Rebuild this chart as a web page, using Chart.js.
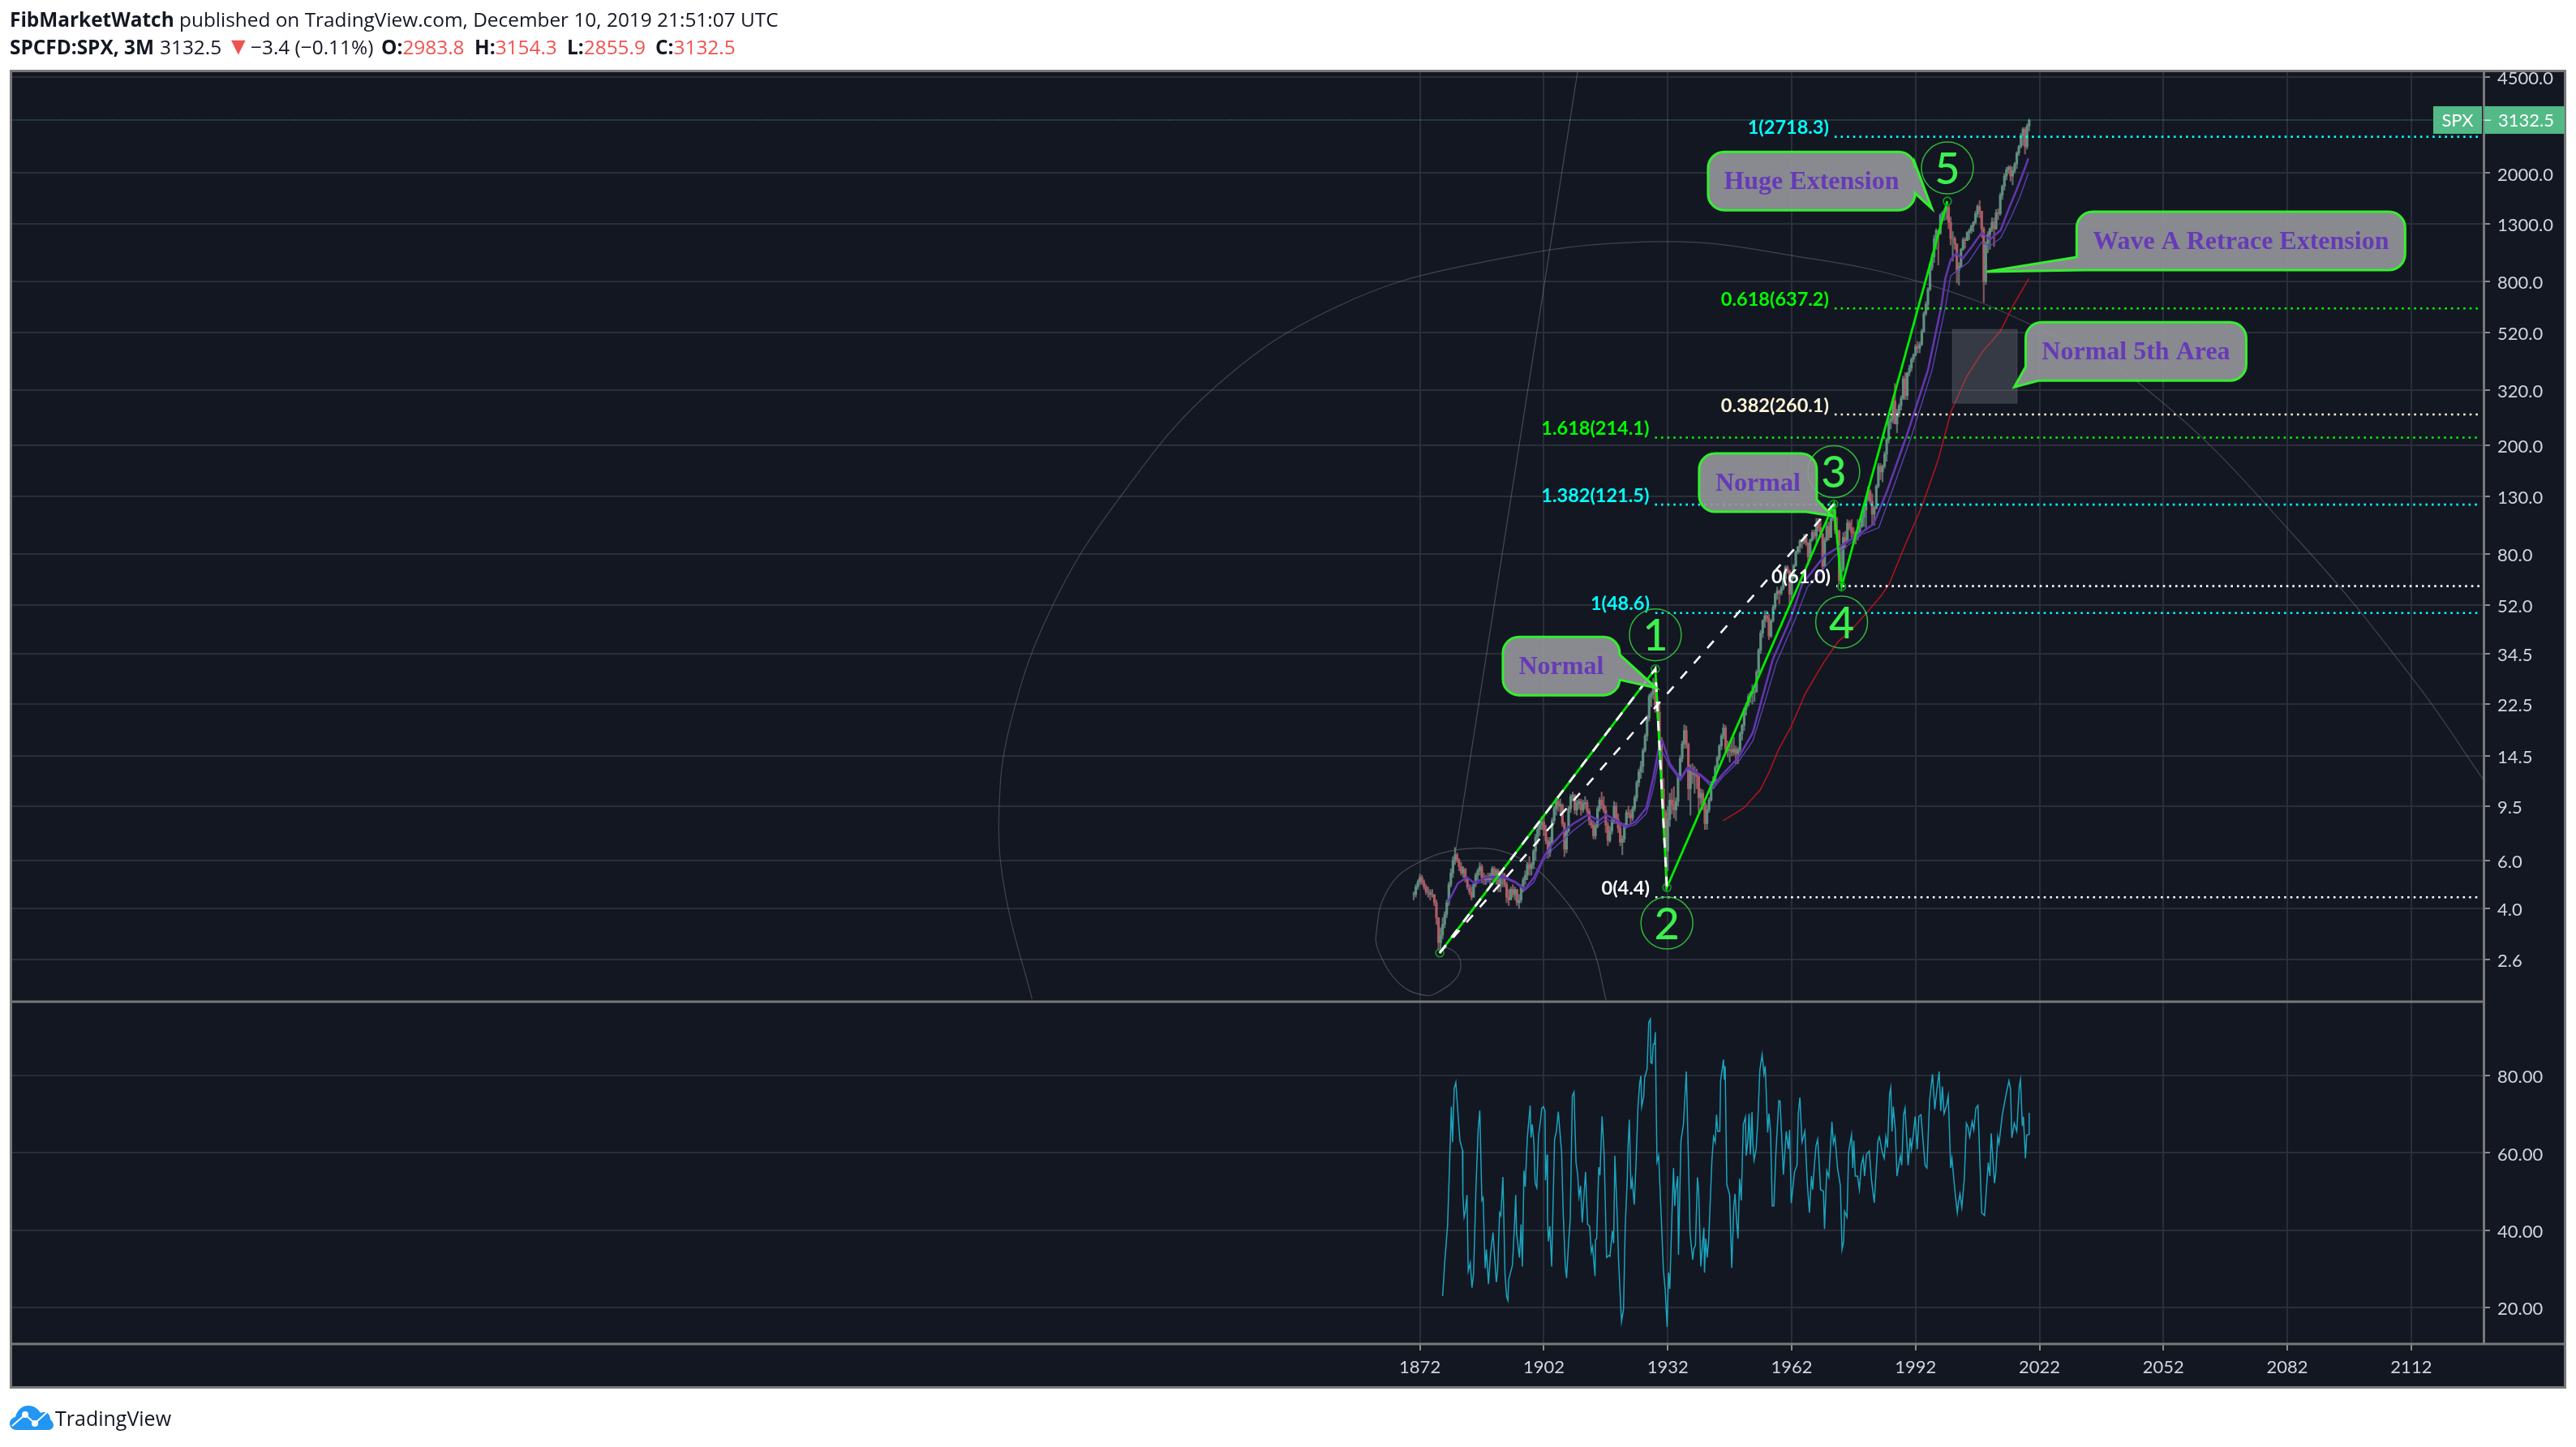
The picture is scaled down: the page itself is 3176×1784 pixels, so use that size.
<!DOCTYPE html>
<html><head><meta charset="utf-8"><title>SPX 3M</title>
<style>
html,body{margin:0;padding:0;background:#fff;width:3176px;height:1784px;overflow:hidden}
canvas{position:absolute;left:0;top:0}
.t{position:absolute;white-space:pre;font-family:"Open Sans",sans-serif;color:#131722;font-size:24.4px;line-height:30px}
.t b{font-weight:700}.r{color:#ef5350}
</style></head><body>
<canvas id="c" width="3176" height="1784"></canvas>
<div class="t" style="left:12px;top:9px"><b>FibMarketWatch</b> published on TradingView.com, December 10, 2019 21:51:07 UTC</div>
<div class="t" style="left:12px;top:43px"><b>SPCFD:SPX, 3M</b></div>
<div class="t" style="left:197px;top:43px">3132.5</div>
<div class="t r" style="left:279px;top:41px;font-size:30px">▼</div>
<div class="t" style="left:309px;top:43px">−3.4 (−0.11%)</div>
<div class="t" style="left:470px;top:43px"><b>O:</b><span class="r">2983.8</span></div>
<div class="t" style="left:585px;top:43px"><b>H:</b><span class="r">3154.3</span></div>
<div class="t" style="left:699px;top:43px"><b>L:</b><span class="r">2855.9</span></div>
<div class="t" style="left:808px;top:43px"><b>C:</b><span class="r">3132.5</span></div>
<svg style="position:absolute;left:12px;top:1732px" width="54" height="32" viewBox="0 0 54 32"><path d="M8 31C3 31 0 27 0 23c0-4 3-7 7-8 2-8 8-14 16-14 7 0 12 4 15 9 2-1 3-1 5-1 4 0 7 4 7 9 2 2 4 4 4 7 0 3-3 6-6 6z" fill="#2196f3"/><path d="M3 26L19 12 31 23 46 9" stroke="#fff" stroke-width="2" fill="none"/><circle cx="19" cy="12" r="4" fill="#fff"/><circle cx="31" cy="23" r="4" fill="#fff"/></svg>
<div class="t" style="left:68px;top:1733px;font-size:25px">TradingView</div>
<script src="https://cdn.jsdelivr.net/npm/chart.js@4"></script>
<script>
const candleStartYear = 1870.5;
const candleStepYears = 0.5;
const candleLow = [
4.3,4.4,4.7,4.9,4.9,4.7,4.5,4.4,4.3,4.4,
4.1,3.5,2.8,2.75,3.1,3.4,3.7,4.1,4.8,5.2,
5.8,5.9,5.5,5.3,5.2,5.0,4.7,4.5,4.3,4.4,
4.8,5.1,5.3,5.0,4.9,4.9,5.0,4.9,5.1,5.0,
4.9,4.6,4.6,4.8,4.8,4.2,4.1,4.3,4.4,4.3,
4.1,4.0,4.2,4.6,4.9,5.1,5.3,5.3,5.6,6.0,
6.9,7.4,7.8,7.4,6.9,6.1,6.2,6.9,8.2,8.8,
9.1,8.9,8.0,6.2,6.4,7.6,9.0,9.9,8.9,8.8,
9.3,8.8,9.0,9.3,8.9,8.1,7.9,7.2,7.2,7.9,
9.1,9.3,9.0,7.6,6.8,7.0,7.5,8.2,8.2,7.6,
6.8,6.3,7.0,7.9,8.6,8.2,8.4,9.1,9.9,11.2,
12.0,12.6,15.0,16.5,19.5,22.0,23.5,21.0,20.0,15.5,
10.0,8.5,4.7,5.5,8.0,8.9,8.6,8.4,9.5,12.0,
13.8,15.5,15.5,10.0,8.8,11.5,10.6,11.0,9.0,9.6,
9.2,7.8,7.8,9.0,9.9,11.0,11.5,12.8,14.0,15.3,
16.8,15.0,14.4,13.8,14.5,14.6,13.6,13.6,15.0,16.6,
18.0,20.5,22.0,22.8,22.5,23.0,24.8,29.0,34.5,39.5,
43,45,38.8,39.5,45,50,54.5,52.5,56.5,59,
63.5,68,52.3,55,65,72,80,81,84,87,
86,73,77,89,91,87,97,92,69,72,
89,90,92,106,95,92,62,61,69,84,
88,98,92,90,87,90,93,100,101,98,
125,122,102,102,117,140,150,147,165,175,
204,230,242,282,223,255,270,295,295,295,
360,375,405,425,438,438,465,520,600,630,
740,880,940,1050,920,1190,1330,1340,1350,1250,
1090,950,1050,790,776,900,1040,1060,1130,1140,
1200,1220,1300,1380,1370,1160,670,780,1020,1050,
1220,1075,1240,1350,1400,1600,1730,1890,1990,1870,
1810,2000,2080,2320,2470,2530,2350,2450,2855];
const candleHigh = [
4.6,4.9,5.1,5.35,5.3,5.1,4.9,4.8,4.7,4.7,
4.5,4.3,3.7,3.4,3.7,3.9,4.3,5.0,5.6,6.2,
6.7,6.4,6.1,5.9,5.7,5.6,5.2,4.9,4.8,5.0,
5.4,5.6,5.9,5.8,5.4,5.3,5.4,5.4,5.7,5.7,
5.6,5.6,5.3,5.5,5.4,5.0,4.7,4.8,4.9,4.8,
4.7,4.5,4.9,5.2,5.5,5.9,6.2,5.9,6.6,7.5,
8.1,8.4,8.7,8.7,8.1,7.3,7.3,8.6,9.5,10.2,
10.2,10.1,9.7,8.3,7.9,9.5,10.5,10.7,10.5,10.0,
10.1,10.1,10.0,10.3,10.0,9.3,8.5,8.4,8.2,9.5,
10.2,10.7,10.3,9.5,8.3,8.0,8.6,9.9,9.8,8.9,
8.2,7.4,8.2,9.2,9.5,9.2,9.5,10.4,11.8,13.0,
13.9,15.5,17.5,20.5,24.5,25.0,28.0,31.0,24.0,22.5,
17.0,12.0,9.2,9.5,10.6,11.0,11.2,10.2,12.5,14.6,
16.5,18.9,18.7,16.2,13.5,13.6,13.3,13.0,12.5,11.0,
10.9,9.8,9.6,10.2,11.7,12.2,13.4,14.5,16.0,17.5,
19.0,18.8,16.5,16.0,16.6,17.0,15.8,15.6,17.8,19.0,
21.8,22.8,24.5,25.0,26.5,25.5,30.0,36.0,42.0,46.0,
49.5,49.5,48,46,52,57.5,60.5,59,61,65.5,
72.5,72.5,70,66,73.5,82,85.5,90.5,90.5,94.5,
94.5,88,91,98,98,108,108,107,95,92,
105,105,110,122,120,109,98,85,96,97,
107,106,107,100,97,107,103,112,120,130,
141,138,133,120,144,172,172,170,190,213,
254,256,300,338,272,285,305,360,370,372,
395,420,435,470,482,480,535,620,675,760,
930,1010,1185,1250,1240,1420,1450,1480,1577,1530,
1380,1220,1170,1100,940,1060,1160,1160,1220,1250,
1290,1330,1450,1530,1585,1450,1270,1120,1220,1260,
1370,1370,1470,1480,1690,1810,1990,2100,2130,2130,
2110,2190,2400,2530,2800,2940,2940,3030,3154];
const candleClose = [
4.5,4.8,5.0,5.2,5.0,4.8,4.6,4.6,4.5,4.5,
4.2,3.7,3.0,3.2,3.5,3.8,4.2,4.9,5.4,6.0,
6.3,6.0,5.7,5.4,5.6,5.1,4.8,4.6,4.4,4.9,
5.3,5.5,5.7,5.2,5.1,5.2,5.1,5.3,5.6,5.2,
5.5,4.9,5.2,5.3,4.9,4.4,4.3,4.7,4.5,4.7,
4.2,4.3,4.8,5.1,5.3,5.8,5.6,5.8,6.5,7.3,
7.8,8.1,8.3,7.8,7.1,6.4,7.0,8.4,9.3,9.9,
9.5,9.6,8.2,6.6,7.7,9.3,10.3,10.4,9.2,9.7,
9.9,9.2,9.7,9.8,9.1,8.4,8.1,7.4,8.0,9.3,
10.0,9.6,9.2,8.1,7.1,7.7,8.4,9.5,8.5,7.9,
7.0,7.2,8.1,9.0,8.9,8.6,9.3,10.2,11.6,12.7,
13.3,15.2,17.2,20.0,24.0,24.5,27.0,22.0,21.0,16.5,
11.0,9.0,6.5,8.5,10.0,9.6,9.2,9.9,12.2,14.2,
16.1,18.0,16.0,11.0,13.0,12.4,12.5,12.2,10.2,10.6,
9.8,8.2,9.2,10.0,11.5,11.7,13.2,14.3,15.8,17.2,
18.4,15.4,15.2,15.3,15.0,15.4,14.8,15.3,17.5,18.8,
21.5,22.3,24.0,24.6,24.8,25.0,29.5,35.5,41.0,45.5,
47.5,46.5,40,45.5,51,57,58.5,57.5,60,65,
71.5,69,57,65.5,72.5,81.5,85,89.5,89,92,
88,78,90,96,93,104,100,95,72,90,
101,92,108,116,98,97,64,70,92,88,
104,100,96,95,92,96,101,109,116,127,
136,125,112,118,142,168,160,168,186,210,
245,250,292,240,262,280,298,352,305,370,
385,415,430,462,455,470,525,610,660,750,
900,985,1150,1230,1200,1400,1430,1460,1500,1320,
1150,1150,1100,880,910,1050,1140,1130,1210,1230,
1280,1320,1420,1510,1450,1250,800,1110,1190,1250,
1320,1250,1430,1420,1660,1790,1950,2060,2100,1950,
2040,2160,2370,2500,2750,2900,2500,2980,3132.5];

const maFastYears = [1878.8,1881.2,1883.4,1885.1,1888.2,1892.1,1895.2,1897.4,1899.6,1902.2,1904,1907,1909.2,1912.7,1915.4,1917.1,1919.7,1921.9,1924.1,1926.8,1928.5,1929.8,1930.7,1932.5,1935.1,1936.8,1939.9,1943,1945.2,1949.1,1952.6,1954.8,1957.4,1961.8,1964.5,1969.9,1977.5,1981.8,1985,1990,1995,1998.2,1999.2,2000.5,2001.8,2003.4,2005.7,2008,2010,2012.6,2014.6,2016.5,2018.5,2019.3];
const maFastValues = [4.21,4.95,5.21,4.97,5.21,5.25,5,4.72,5.19,6.26,6.88,7.74,8.21,8.82,8.41,8.82,8.41,8.02,8.31,9.35,12.1,15.4,16.5,13.6,12,13.2,12.4,11.3,12.4,14.3,17.7,23.5,32.7,46.6,61.8,78.7,92.7,103,135,221,379,645,820,962,1012,972,1079,1209,1142,1236,1485,1743,2092,2266];
const maSlowYears = [1883.4,1885.1,1888.2,1892.1,1895.2,1897.4,1899.6,1901.8,1904,1907,1909.2,1912.7,1915.4,1917.1,1919.7,1921.9,1924.1,1926.8,1928.5,1929.8,1930.7,1932.5,1935.1,1936.8,1939.9,1943,1945.2,1949.1,1952.6,1955.3,1958.3,1962.7,1965.8,1972.4,1978.7,1983.1,1986.2,1991.2,1996,1999.2,2000.5,2002.1,2004.75,2008,2010,2012.6,2015.2,2017.2,2019.3];
const maSlowValues = [4.72,4.95,5,5.19,4.95,4.66,5,5.97,6.57,7.22,7.74,8.51,8.12,8.51,8.21,7.93,8.12,8.92,11,14,15,13.3,11.8,13,12.3,11,12.1,13.8,16.5,22.4,31.9,45.5,60.4,78.7,94,100,135,221,379,645,840,879,940,1117,1079,1156,1387,1628,2000];
const maLongYears = [1945.4,1950.4,1954.4,1956.6,1958.8,1961.8,1965.3,1969.7,1973.2,1976.3,1980.2,1983.7,1985.6,1988.7,1993.7,1997.5,2000.6,2004.4,2008.1,2012.5,2015.6,2019.4];
const maLongValues = [8.4,9.35,10.9,12.7,15.3,18.5,24.6,31.9,38.1,41.9,48.8,56.3,62,81,121.6,178,267,359,440,525,652,820];

const waveYears  = [1876.8,1929.0,1931.8,1972.2,1974.1,1999.7];
const waveValues = [2.75,30.3,4.78,122,60.8,1577];
const waveLabels = ["","1","2","3","4","5"];
const waveLabelOffsets = [0,-42,44,-40,44,-41];
const dashChannelYears = [1876.8,1972.2];
const dashChannelValues = [2.75,122];

const fibLabels = ["1(2718.3)","0.618(637.2)","0.382(260.1)","1.618(214.1)","1.382(121.5)","0(61.0)","1(48.6)","0(4.4)"];
const fibValues = [2718.3,637.2,260.1,214.1,121.5,61.0,48.6,4.4];
const fibStartYears = [1972.4,1972.4,1972.4,1928.9,1928.9,1972.8,1929,1929];
const fibColors = ["#00ffff","#00ff00","#fff4d6","#00ff00","#00ffff","#ffffff","#00ffff","#ffffff"];
const fibEndYear = 2128.5;

const spiralYears = [1876.8,1878.6,1881.6,1881.2,1876.8,1873.3,1867.2,1861.9,1861.5,1863.6,1869.8,1883.8,1896.1,1906.6,1913.6,1917.1];
const spiralValues = [2.74,2.87,2.62,2.27,1.99,1.92,2.11,2.81,3.31,4.5,5.7,6.64,6.12,4.4,2.94,1.84];
const bigArcYears = [1778.1,1771.7,1770.1,1772.9,1782.8,1798.7,1822.6,1852.4,1886.2,1930,1965.8,1993.6,2020.3,2048.5,2085.1,2112.9,2129.6];
const bigArcValues = [1.864,4.47,8.95,19.2,50.7,125,330,652,936,1121,976,792,552,317,88.4,27.2,11.8];
const rayYears = [1876.8,1910.2];
const rayValues = [2.74,4742];

const zoneYears = [2000.9,2016.6];
const zoneValues = [286,534];

const calloutLabels = ["Huge Extension","Normal","Normal","Wave A Retrace Extension","Normal 5th Area"];
const calloutTipYears = [1995.96,1971.8,1929.2,2009.2,2015.9];
const calloutTipValues = [1482,110.4,25.8,869,328];

const rsiYears = [1877.5,1878,1878.7,1879.1,1879.6,1879.9,1880.3,1880.7,1881.5,1881.7,1882.3,1882.4,1882.7,1883,1883.4,1883.7,1884.2,1884.6,1885,1885.6,1886.1,1886.5,1887,1887.3,1887.8,1888.1,1888.6,1889.1,1889.7,1890.5,1890.8,1891.3,1891.6,1892.1,1892.6,1893,1893.3,1893.5,1894.4,1894.9,1895.2,1895.4,1896.1,1896.5,1896.8,1897.2,1897.5,1898,1898.7,1898.9,1899.2,1899.6,1899.9,1900.3,1900.7,1901.2,1901.5,1901.9,1902.3,1902.4,1902.8,1902.9,1903.1,1903.45,1903.9,1904.6,1905,1905.5,1906.3,1906.7,1907.2,1907.5,1908,1908.4,1908.9,1909.3,1909.8,1910.2,1910.5,1910.9,1911.3,1912.1,1912.6,1913.1,1913.5,1913.8,1914.4,1914.5,1914.8,1915.3,1915.6,1916.1,1916.6,1917.2,1917.7,1918,1918.6,1918.9,1919.2,1919.8,1920.1,1920.8,1921.3,1921.7,1922.2,1922.4,1922.7,1923.1,1923.4,1923.9,1924.3,1924.8,1925.2,1925.5,1925.7,1926.2,1926.4,1927,1927.4,1927.8,1927.9,1928.2,1928.5,1928.8,1929,1929.2,1929.4,1929.8,1930.4,1930.95,1931.4,1931.85,1932.2,1932.5,1933,1933.4,1933.7,1933.9,1934.4,1934.6,1935.2,1935.8,1936.5,1937,1937.4,1938.05,1938.3,1938.7,1939.2,1939.5,1940,1940.75,1940.9,1941.2,1941.55,1941.9,1942.7,1943.1,1943.5,1943.8,1944.1,1944.6,1944.8,1945.5,1945.7,1945.9,1946.3,1947,1947.2,1947.5,1948,1948.3,1948.65,1949,1949.4,1949.8,1950.3,1950.8,1951,1951.35,1951.7,1952,1952.4,1952.6,1952.9,1953.4,1953.8,1954.3,1954.85,1955.3,1955.6,1956.2,1956.5,1956.9,1957.3,1957.7,1958.2,1958.9,1959.2,1960,1960.7,1961.2,1961.5,1961.9,1962.7,1963.3,1963.6,1964,1964.5,1965.2,1965.8,1966.3,1966.8,1967.1,1967.5,1967.9,1968.3,1968.6,1969,1969.7,1969.95,1970.5,1971,1971.75,1972.1,1972.5,1973.1,1973.8,1974.2,1974.6,1974.8,1975.4,1975.8,1976.5,1976.8,1977.05,1977.4,1977.95,1978.4,1978.85,1979.3,1979.65,1980.1,1980.8,1981.3,1982,1982.9,1983.25,1983.9,1984.4,1984.8,1985.2,1985.7,1986,1986.3,1986.6,1987.1,1987.5,1988.3,1988.65,1989.1,1989.45,1990.2,1990.7,1991,1991.5,1991.9,1992.4,1992.8,1993.3,1994.3,1994.75,1995.4,1996.1,1996.65,1997.1,1997.7,1998.1,1998.5,1998.9,1999.5,1999.9,2000.15,2000.5,2000.8,2001.5,2002.1,2002.4,2002.75,2003.2,2003.8,2004.3,2004.7,2005.1,2005.7,2006.1,2006.6,2007.1,2008,2008.7,2009.6,2010,2010.3,2011.1,2011.4,2011.9,2012.2,2013,2013.9,2014.6,2015,2015.3,2015.9,2016.5,2017.1,2017.4,2017.85,2018.1,2018.6,2018.9,2019.4,2019.5];
const rsiValues = [22.9,31.5,41.3,54,72,62.8,76.7,78.3,66,63.2,60.7,49.1,43.4,44.9,49.1,29.4,31.5,25.1,28.7,51.9,66,71,47.7,48.4,30.1,35,26,33.9,39.4,26.5,29.4,44.5,43.8,53.8,28.7,22.7,21.8,27.2,30.9,41.3,49.1,39.2,32.9,41.5,30.6,55.4,51.3,63.9,72.3,64,67.4,62.8,52.2,51,64.2,68.4,71.6,72,70.9,52.9,59.6,43.4,37.1,41,30.6,63.5,65.3,70.7,60.3,44.1,30.8,27.6,36.8,42.7,74.8,75.8,57.5,54.4,48.7,51.5,42,55.1,41.5,41,34.3,35.7,28.1,37.5,37.8,56.3,54.2,69.5,59.6,32.9,33.4,33.2,39.8,36.6,59.3,42.7,32.2,16.3,19.5,40.6,53.3,61.8,68.6,50.6,53,46.6,56.8,72,78,80,72,74.8,79.4,81.8,93.8,94.7,83.4,83.2,88.2,88.2,91.3,73,57.7,59.3,44.1,29.7,24.4,14.9,29,24.8,43.4,56.1,46.3,49.8,54,33.6,63.2,67.4,81.1,58.9,39.2,32.3,35.1,36,53.7,49.8,30.6,40.6,29,37.8,32.9,37.1,58.2,64.2,62.8,69.9,65.6,65.6,78.7,84.2,79,82.5,51.9,49.1,40.6,30.2,46.3,49.4,42.7,37.8,53.3,47.7,67.4,69.3,59.3,62.8,70.2,59.6,70.6,62.5,58.1,61,68.1,81.5,85.5,80.4,82.5,65.3,70.2,65.3,46.3,46.3,60.3,73.6,73.4,54.4,65.6,61,66,47,55.1,56.8,70.2,74.4,62.8,65.6,51.9,44.5,54,50.5,56.8,61.8,63.5,58.6,50.5,50.1,40.3,55.4,53.7,68.1,62.5,64.2,56.1,51.5,35,37.1,44.9,43.4,60.3,64.7,56.1,63.2,54,54,50.5,56.8,58.9,54,59.6,60.5,53.3,47.1,63.2,64.2,60.3,58.6,64.2,61.4,75.1,76.9,65.6,72,66,54,59.3,56.8,69.9,71.6,56.8,63.9,61,65.3,69.5,61,69.5,69.9,56.8,56.1,73.7,80.4,71.3,75.8,81.1,70.9,77.2,70.2,72.3,74.8,67.4,56.1,58.6,50.5,44.5,47.3,49.4,45.9,53.3,67.7,66.7,64.2,68.1,66,71.6,72.3,44.5,43.8,57.5,54,65.1,52.2,54.7,64.2,62.5,69.9,75.1,78.7,76.5,63.9,67.7,65.6,77.2,79,67,69.4,58.6,64.6,64.8,70.4];

const priceTicks = [4500,2000,1300,800,520,320,200,130,80,52,34.5,22.5,14.5,9.5,6,4,2.6];
const rsiTicks = [80,60,40,20];
const yearTicks = [1872,1902,1932,1962,1992,2022,2052,2082,2112];
const lastPrice = 3132.5;
const lastPriceName = "SPX";

const BG = "#131722", GRID = "#2a2e39", FRAME = "#787878", AXIS = "#d1d4dc";
const AXFONT = {family:"Lato", size:22};

const pts = (xs, ys) => xs.map((x,i)=>({x, y:ys[i]}));
const candleYears = candleClose.map((_,i)=>candleStartYear + i*candleStepYears);
const isUp = candleClose.map((c,i)=> i===0 || c >= candleClose[i-1]);
const bodyColors = isUp.map(u=> u ? "#5f8f80" : "#ad5c65");
const wickColors = isUp.map(u=> u ? "rgba(110,135,128,.8)" : "rgba(165,100,108,.8)");
const line = (label, xs, ys, color, width, extra={}) => Object.assign({
  type:"line", label, data:pts(xs,ys), borderColor:color, borderWidth:width,
  pointRadius:0, fill:false, tension:0, xAxisID:"x", yAxisID:"y"
}, extra);

// layout of annotations, in pixels relative to their anchors
const calloutShapes = [
 {box:[-276,-70,-21,2],  kind:"right", w:[-56,-19], font:32},
 {box:[-164,-77,-19,-5], kind:"br",    w:[-20,-32], font:32},
 {box:[-189,-63,-45,9],  kind:"right", w:[-41,-10], font:32},
 {box:[111,-74,516,-2],  kind:"bl",    w:[-18,121], font:32},
 {box:[14,-80,286,-8],   kind:"bl",    w:[-25,30],  font:32}
];

function calloutPath(g,l,t,r,b,R,tx,ty,s){
  g.beginPath(); g.moveTo(l+R,t); g.lineTo(r-R,t); g.arcTo(r,t,r,t+R,R);
  if(s.kind==="right"){ g.lineTo(r,ty+s.w[0]); g.lineTo(tx,ty); g.lineTo(r,ty+s.w[1]); g.lineTo(r,b-R); g.arcTo(r,b,r-R,b,R); }
  else if(s.kind==="br"){ g.lineTo(r,ty+s.w[0]); g.lineTo(tx,ty); g.lineTo(tx+s.w[1],b); }
  else { g.lineTo(r,b-R); g.arcTo(r,b,r-R,b,R); }
  if(s.kind==="bl"){ g.lineTo(tx+s.w[1],b); g.lineTo(tx,ty); g.lineTo(l,ty+s.w[0]); }
  else { g.lineTo(l+R,b); g.arcTo(l,b,l,b-R,R); }
  g.lineTo(l,t+R); g.arcTo(l,t,l+R,t,R); g.closePath();
}

const overlay = {
 id:"overlay",
 beforeDraw(c){
  const g=c.ctx; g.save();
  g.fillStyle="#fff"; g.fillRect(0,0,c.width,c.height);
  g.fillStyle=BG; g.fillRect(13,88,3149,1622);
  g.restore();
 },
 afterDatasetsDraw(c){
  const g=c.ctx, X=c.scales.x, Y=c.scales.y; g.save();
  // shaded zone
  const zx0=X.getPixelForValue(zoneYears[0]), zx1=X.getPixelForValue(zoneYears[1]);
  const zy0=Y.getPixelForValue(zoneValues[1]), zy1=Y.getPixelForValue(zoneValues[0]);
  g.fillStyle="rgba(120,123,134,.35)"; g.strokeStyle="rgba(120,123,134,.3)"; g.lineWidth=1;
  g.fillRect(zx0,zy0,zx1-zx0,zy1-zy0); g.strokeRect(zx0,zy0,zx1-zx0,zy1-zy0);
  // fib labels
  g.font="700 23.5px Lato"; g.textAlign="right"; g.textBaseline="middle";
  fibLabels.forEach((t,i)=>{ g.fillStyle=fibColors[i];
    g.fillText(t, X.getPixelForValue(fibStartYears[i])-7, Y.getPixelForValue(fibValues[i])-11); });
  // wave numbers
  waveLabels.forEach((t,i)=>{ if(!t) return;
    const x=X.getPixelForValue(waveYears[i]), y=Y.getPixelForValue(waveValues[i])+waveLabelOffsets[i];
    g.beginPath(); g.arc(x,y,32,0,Math.PI*2); g.strokeStyle="#2fb83a"; g.lineWidth=1.5; g.stroke();
    g.fillStyle="#3cf04e"; g.font="500 54px Lato"; g.textAlign="center"; g.textBaseline="middle";
    g.fillText(t,x,y+2);
  });
  // callouts
  calloutLabels.forEach((t,i)=>{
    const s=calloutShapes[i], tx=X.getPixelForValue(calloutTipYears[i]), ty=Y.getPixelForValue(calloutTipValues[i]);
    const l=tx+s.box[0], u=ty+s.box[1], r=tx+s.box[2], b=ty+s.box[3];
    calloutPath(g,l,u,r,b,20,tx,ty,s);
    g.fillStyle="rgba(150,151,156,.9)"; g.fill();
    g.strokeStyle="#33f02f"; g.lineWidth=3; g.stroke();
    g.fillStyle="#673ab7"; g.font="700 "+s.font+"px 'Liberation Serif'"; g.textAlign="center"; g.textBaseline="middle";
    g.fillText(t,(l+r)/2,(u+b)/2+2);
  });
  g.restore();
 },
 afterDraw(c){
  const g=c.ctx, a=c.chartArea, Y=c.scales.y, R=c.scales.rsi; g.save();
  g.fillStyle=FRAME;
  g.fillRect(12,86,3152,3); g.fillRect(12,1709,3152,3); g.fillRect(12,86,3,1626); g.fillRect(3161,86,3,1626);
  g.fillRect(a.left,R.top-1.5,a.right-a.left,3);
  g.fillRect(a.left,a.bottom-1.5,3162-a.left,3);
  g.fillRect(a.right-1,a.top,3,a.bottom-a.top+1);
  // last price tag
  const y=Y.getPixelForValue(lastPrice);
  g.fillStyle="#53b987"; g.fillRect(a.right-62,y-17,60,34); g.fillRect(a.right+1,y-17,99,34);
  g.fillStyle="rgba(255,255,255,.8)"; g.fillRect(a.right+1,y-.5,8,1.5);
  g.fillStyle="#fff"; g.font="22px Lato"; g.textBaseline="middle"; g.textAlign="center";
  g.fillText(lastPriceName,a.right-32,y+1);
  g.textAlign="left"; g.fillText(lastPrice.toFixed(1),a.right+18,y+1);
  g.restore();
 }
};

new Chart(document.getElementById("c"),{
 type:"line",
 data:{datasets:[
  {type:"bar",label:"wicks",data:candleYears.map((x,i)=>({x,y:[candleLow[i],candleHigh[i]]})),backgroundColor:wickColors,barThickness:1.5,grouped:false,order:30,xAxisID:"x",yAxisID:"y"},
  {type:"bar",label:"bodies",data:candleYears.map((x,i)=>({x,y:[Math.min(candleClose[i],i?candleClose[i-1]:candleClose[i]),Math.max(candleClose[i],i?candleClose[i-1]:candleClose[i])]})),backgroundColor:bodyColors,barThickness:2.5,grouped:false,order:29,xAxisID:"x",yAxisID:"y"},
  line("ray",rayYears,rayValues,"rgba(120,123,134,.5)",1.2,{order:40}),
  line("spiral",spiralYears,spiralValues,"rgba(120,123,134,.5)",1.2,{tension:.4,order:40}),
  line("arc",bigArcYears,bigArcValues,"rgba(120,123,134,.45)",1.2,{tension:.4,order:40}),
  line("last",[1531,2129.5],[lastPrice,lastPrice],"rgba(83,185,135,.55)",1.5,{borderDash:[1,1],order:35}),
  line("ma slow",maSlowYears,maSlowValues,"#5a43b8",1.3,{order:28}),
  line("ma fast",maFastYears,maFastValues,"#6436ad",2.6,{order:27}),
  line("ma long",maLongYears,maLongValues,"#b4141c",1.5,{order:26}),
  ...fibLabels.map((t,i)=>line(t,[fibStartYears[i],fibEndYear],[fibValues[i],fibValues[i]],fibColors[i],2.6,{borderDash:[2.6,5],order:20})),
  line("waves",waveYears,waveValues,"#00ee00",2.8,{order:10,pointRadius:5,pointBorderColor:"#109a24",pointBackgroundColor:"transparent",pointBorderWidth:1.6}),
  line("dash 1",waveYears.slice(0,3),waveValues.slice(0,3),"#ffffff",2.8,{borderDash:[12,12],order:9}),
  line("dash 2",dashChannelYears,dashChannelValues,"#ffffff",2.6,{borderDash:[12,13],order:9}),
  {type:"line",label:"RSI",data:pts(rsiYears,rsiValues),borderColor:"#1ba3bd",borderWidth:1.5,pointRadius:0,tension:0,fill:false,xAxisID:"x",yAxisID:"rsi",order:5}
 ]},
 options:{
  responsive:false,animation:false,events:[],devicePixelRatio:1,
  layout:{padding:{left:14,top:88,right:13,bottom:73}},
  plugins:{legend:{display:false},tooltip:{enabled:false},title:{display:false}},
  scales:{
   x:{type:"linear",min:1531,max:2129.5,offset:false,position:"bottom",
      border:{display:false},
      grid:{offset:false,color:GRID,lineWidth:2,tickLength:8,tickColor:"#8a8a8a",drawTicks:true},
      afterBuildTicks(s){s.ticks=yearTicks.map(v=>({value:v}));},
      afterFit(s){s.height=54;},
      ticks:{autoSkip:false,maxRotation:0,color:AXIS,font:AXFONT,padding:8,callback:v=>String(v)}},
   y:{type:"logarithmic",min:1.82,max:4725,position:"right",stack:"panes",stackWeight:1147,beginAtZero:false,
      border:{display:false},
      grid:{color:GRID,lineWidth:2,tickLength:8,tickColor:"#8a8a8a"},
      afterBuildTicks(s){s.ticks=priceTicks.map(v=>({value:v}));},
      afterFit(s){s.width=101;},
      ticks:{autoSkip:false,color:AXIS,font:AXFONT,padding:9,labelOffset:2,callback:v=>Number(v).toFixed(1)}},
   rsi:{type:"linear",min:10.5,max:99.2,position:"right",stack:"panes",stackWeight:422,beginAtZero:false,
      border:{display:false},
      grid:{color:GRID,lineWidth:2,tickLength:8,tickColor:"#8a8a8a"},
      afterBuildTicks(s){s.ticks=rsiTicks.map(v=>({value:v}));},
      afterFit(s){s.width=101;},
      ticks:{autoSkip:false,color:AXIS,font:AXFONT,padding:9,labelOffset:2,callback:v=>Number(v).toFixed(2)}}
  }
 },
 plugins:[overlay]
});
</script></body></html>
